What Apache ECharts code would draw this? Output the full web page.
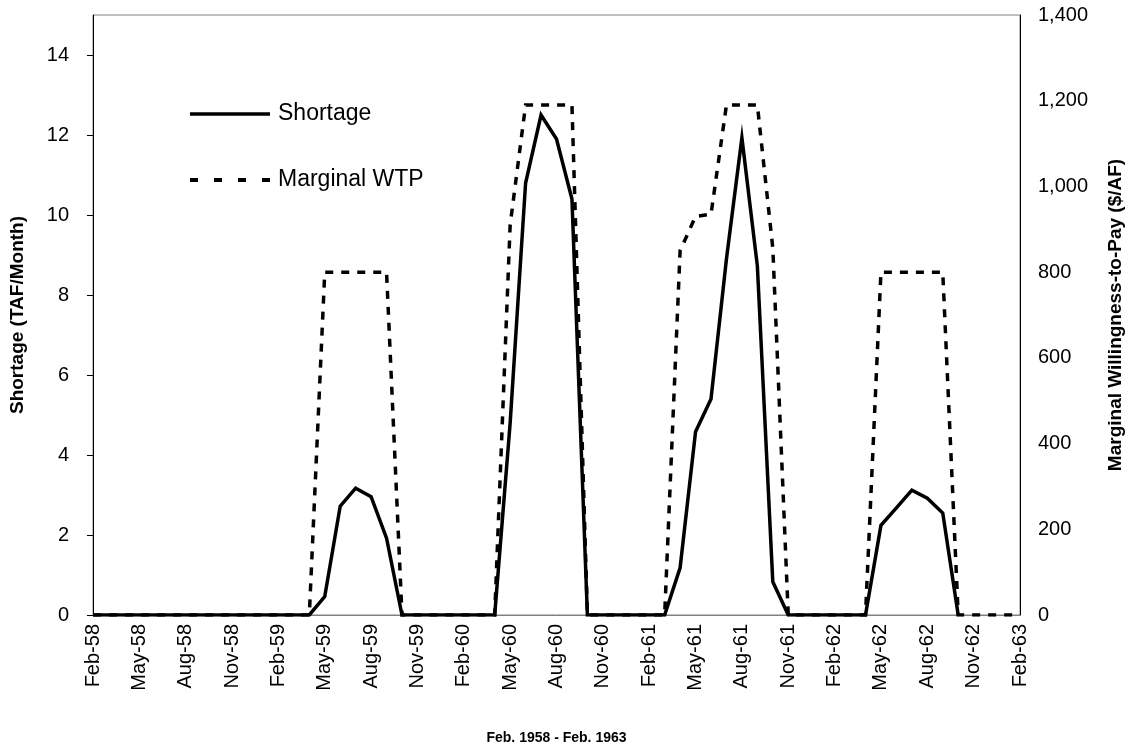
<!DOCTYPE html>
<html>
<head>
<meta charset="utf-8">
<script src="https://cdn.jsdelivr.net/npm/echarts@6/dist/echarts.min.js"></script>
<style>html,body{margin:0;padding:0;background:#fff}#c{width:1133px;height:752px}</style>
</head>
<body>
<div id="c"></div>
<script>
const months = ['Feb-58','Mar-58','Apr-58','May-58','Jun-58','Jul-58','Aug-58','Sep-58','Oct-58','Nov-58','Dec-58',
'Jan-59','Feb-59','Mar-59','Apr-59','May-59','Jun-59','Jul-59','Aug-59','Sep-59','Oct-59','Nov-59','Dec-59',
'Jan-60','Feb-60','Mar-60','Apr-60','May-60','Jun-60','Jul-60','Aug-60','Sep-60','Oct-60','Nov-60','Dec-60',
'Jan-61','Feb-61','Mar-61','Apr-61','May-61','Jun-61','Jul-61','Aug-61','Sep-61','Oct-61','Nov-61','Dec-61',
'Jan-62','Feb-62','Mar-62','Apr-62','May-62','Jun-62','Jul-62','Aug-62','Sep-62','Oct-62','Nov-62','Dec-62',
'Jan-63','Feb-63'];
const tickLabels = ['Feb-58','May-58','Aug-58','Nov-58','Feb-59','May-59','Aug-59','Nov-59','Feb-60','May-60','Aug-60','Nov-60',
'Feb-61','May-61','Aug-61','Nov-61','Feb-62','May-62','Aug-62','Nov-62','Feb-63'];
const shortage = [0,0,0,0,0,0,0,0,0,0,0,0,0,0,0,
0.46,2.72,3.17,2.96,1.92,
0,0,0,0,0,0,0,
4.8,10.8,12.5,11.9,10.4,
0,0,0,0,0,0,
1.18,4.58,5.4,8.9,11.93,8.73,0.83,
0,0,0,0,0,0,
2.24,2.68,3.12,2.92,2.55,
0,
null,null,null,null];
const wtp = [0,0,0,0,0,0,0,0,0,0,0,0,0,0,0,
800,800,800,800,800,
0,0,0,0,0,0,0,
910,1190,1190,1190,1190,
0,0,0,0,0,0,
850,930,935,1190,1190,1190,856,
0,0,0,0,0,0,
800,800,800,800,800,
0,
0,0,0,0];
const seriesNames = ['Shortage','Marginal WTP'];
const axisNames = ['Shortage (TAF/Month)','Marginal Willingness-to-Pay ($/AF)','Feb. 1958 - Feb. 1963'];

const FONT = 'Liberation Sans, Arial, sans-serif';
const chart = echarts.init(document.getElementById('c'), null, {renderer:'canvas'});
chart.setOption({
  animation:false,
  backgroundColor:'#fff',
  grid:{left:93,right:111,top:15,bottom:137,show:true,borderColor:'#808080',borderWidth:1,containLabel:false},
  legend:{
    orient:'vertical',left:183,top:96,itemWidth:80,itemHeight:26,itemGap:40,
    data:[{name:seriesNames[0],lineStyle:{type:'solid',width:3.5,color:'#000',cap:'butt'}},
          {name:seriesNames[1],lineStyle:{type:[8,16],width:4,color:'#000',cap:'butt'}}],
    itemStyle:{opacity:0},
    textStyle:{fontFamily:FONT,fontSize:23,color:'#000',lineHeight:26,padding:[0,0,0,3]}
  },
  xAxis:{
    type:'category',data:months,boundaryGap:false,
    name:axisNames[2],nameLocation:'middle',nameGap:116,
    nameTextStyle:{fontFamily:FONT,fontSize:14,fontWeight:'bold',color:'#000'},
    axisLine:{show:true,lineStyle:{color:'#808080',width:1}},
    axisTick:{show:false},
    axisLabel:{rotate:90,margin:9,fontFamily:FONT,fontSize:20,color:'#000',
      interval:function(idx,val){return tickLabels.indexOf(val)>=0;}},
    splitLine:{show:false}
  },
  yAxis:[{
    type:'value',min:0,max:15,interval:2,position:'left',
    name:axisNames[0],nameLocation:'middle',nameGap:66,nameRotate:90,
    nameTextStyle:{fontFamily:FONT,fontSize:19,fontWeight:'bold',color:'#000'},
    axisLine:{show:true,lineStyle:{color:'#000',width:1}},
    axisTick:{show:true,length:6,inside:false,lineStyle:{color:'#000'}},
    axisLabel:{margin:24,fontFamily:FONT,fontSize:20,color:'#000',showMaxLabel:false},
    splitLine:{show:false}
  },{
    type:'value',min:0,max:1400,interval:200,position:'right',
    name:axisNames[1],nameLocation:'middle',nameGap:86,nameRotate:90,
    nameTextStyle:{fontFamily:FONT,fontSize:19,fontWeight:'bold',color:'#000'},
    axisLine:{show:true,lineStyle:{color:'#000',width:1}},
    axisTick:{show:false},
    axisLabel:{margin:18,fontFamily:FONT,fontSize:20,color:'#000',
      formatter:function(v){return v.toLocaleString('en-US');}},
    splitLine:{show:false}
  }],
  series:[{
    name:seriesNames[0],type:'line',yAxisIndex:0,data:shortage,symbol:'none',
    lineStyle:{color:'#000',width:3.5,type:'solid',cap:'butt',join:'miter'},
    itemStyle:{color:'#000'},connectNulls:false
  },{
    name:seriesNames[1],type:'line',yAxisIndex:1,data:wtp,symbol:'none',
    lineStyle:{color:'#000',width:3.5,type:[8,8],cap:'butt',join:'miter'},
    itemStyle:{color:'#000'}
  }]
});
</script>
</body>
</html>
